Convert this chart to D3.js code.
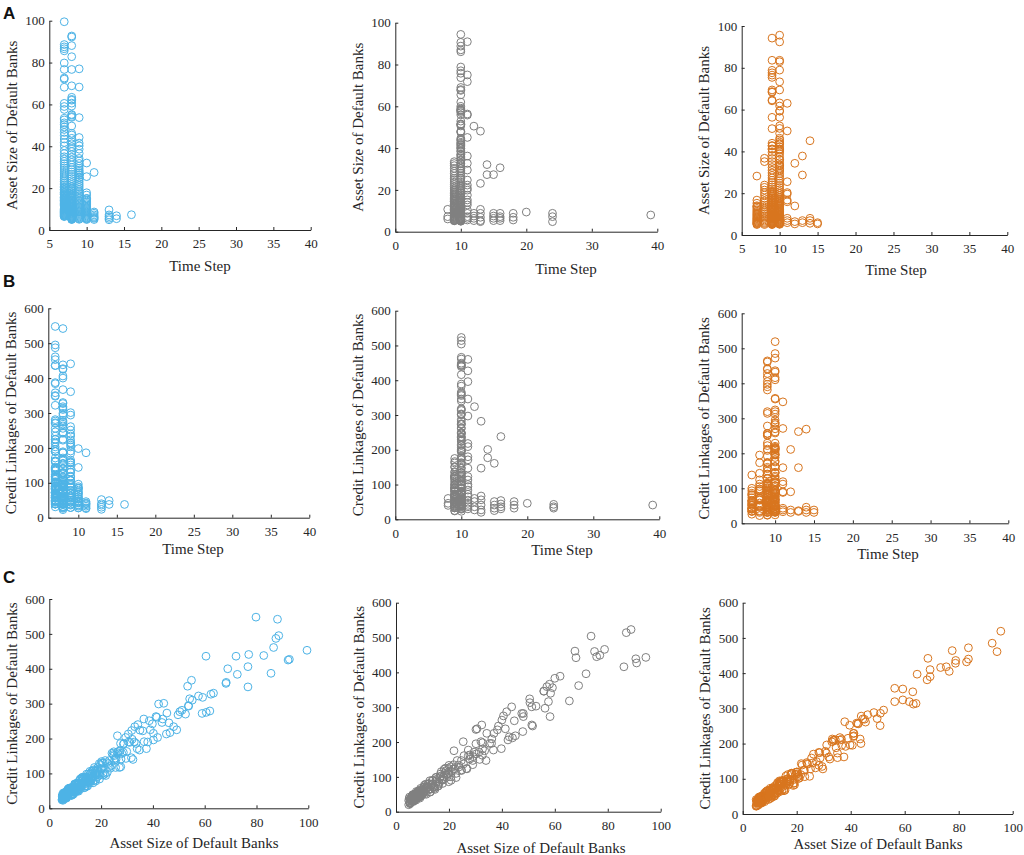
<!DOCTYPE html>
<html>
<head>
<meta charset="utf-8">
<script src="https://cdn.jsdelivr.net/npm/d3@7"></script>
<style>
  body { margin: 0; background: #fff; }
  svg { display: block; font-family: "Liberation Serif", "Times New Roman", serif; }
  .axis text { font-family: "Liberation Serif", "Times New Roman", serif; font-size: 13px; }
  .axis-label { font-size: 15px; fill: #262626; }
  .panel-tag { font-family: "Liberation Sans", Arial, sans-serif; font-weight: bold; font-size: 17px; fill: #111; }
</style>
</head>
<body>
<div class="chart"></div>
<script>
// one entry per default bank: [time step, asset size, credit linkages]
var model1 = [
  // t = 7, scattered top
  [7,99.5,453],[7,88.6,495],[7,87.5,487],[7,86.6,461],[7,85.6,387],[7,79.8,548],[7,76.7,348],[7,72.6,384],
  [7,72.1,436],[7,68.2,358],[7,60.5,436],[7,59.0,272],[7,57.6,322],[7,53.4,350],[7,52.6,270],[7,51.2,281],
  [7,50.4,277],[7,49.2,225],[7,48.0,234],[7,46.6,217],[7,45.2,213],[7,43.5,246],[7,41.8,203],[7,40.2,196],
  [7,38.0,190],[7,36.5,256],
  // t = 7, dense part
  [7,6.4,31],[7,6.8,46],[7,7.2,40],[7,7.6,57],[7,8.0,48],[7,8.4,58],[7,8.8,39],[7,9.2,56],[7,9.6,48],
  [7,10.0,68],[7,10.5,49],[7,11.0,69],[7,11.5,61],[7,12.0,84],[7,12.5,72],[7,13.0,84],[7,13.5,59],[7,14.0,82],
  [7,14.5,71],[7,15.0,98],[7,15.6,72],[7,16.2,98],[7,16.8,87],[7,17.4,117],[7,18.0,100],[7,18.7,117],
  [7,19.4,84],[7,20.1,114],[7,20.8,101],[7,21.6,137],[7,22.4,103],[7,23.2,137],[7,24.0,123],[7,24.9,162],
  [7,25.8,141],[7,26.7,163],[7,27.6,119],[7,28.6,160],[7,29.6,143],[7,30.6,190],[7,31.7,145],[7,32.8,190],
  [7,33.9,171],[7,35.0,224],
  [7,6.6,44],[7,7.0,39],[7,7.4,56],[7,7.9,47],[7,8.4,57],[7,8.9,39],[7,9.4,57],[7,9.9,50],[7,10.4,71],
  [7,11.0,51],[7,11.6,72],[7,12.2,64],[7,12.8,89],[7,13.4,76],[7,14.1,90],[7,14.8,64],[7,15.5,90],[7,16.2,80],
  [7,17.0,110],[7,17.8,82],[7,18.6,111],[7,19.4,100],[7,20.2,134],
  // t = 8, scattered top
  [8,92.7,427],[8,92.2,425],[8,88.1,542],[8,82.8,438],[8,76.7,406],[8,68.9,400],[8,63.4,330],[8,62.4,327],
  [8,62.0,279],[8,60.6,275],[8,59.2,318],[8,54.9,367],[8,54.2,314],[8,55.2,310],[8,53.8,293],[8,49.7,268],
  [8,46.2,245],[8,45.4,273],[8,43.8,256],[8,42.2,299],[8,41.2,263],[8,39.8,242],
  // t = 8, dense part
  [8,5.0,38],[8,5.3,23],[8,5.6,37],[8,5.9,31],[8,6.2,46],[8,6.6,32],[8,7.0,47],[8,7.4,41],[8,7.8,58],
  [8,8.2,49],[8,8.6,59],[8,9.0,39],[8,9.5,58],[8,10.0,50],[8,10.5,71],[8,11.0,52],[8,11.5,72],[8,12.0,63],
  [8,12.6,88],[8,13.2,75],[8,13.8,89],[8,14.4,63],[8,15.0,87],[8,15.7,77],[8,16.4,106],[8,17.1,79],
  [8,17.8,107],[8,18.5,96],[8,19.3,128],[8,20.1,112],[8,20.9,130],[8,21.8,94],[8,22.7,128],[8,23.6,115],
  [8,24.6,154],[8,25.6,117],[8,26.6,156],[8,27.7,141],[8,28.8,186],[8,29.9,163],[8,31.1,189],[8,32.3,140],
  [8,33.5,186],[8,34.8,167],[8,36.1,222],[8,37.5,171],[8,39.0,225],
  [8,5.1,27],[8,5.5,42],[8,6.0,29],[8,6.5,44],[8,7.0,39],[8,7.6,57],[8,8.2,49],[8,8.8,60],[8,9.4,41],
  [8,10.0,60],[8,10.7,54],[8,11.4,77],[8,12.1,56],[8,12.8,79],[8,13.6,71],[8,14.4,98],[8,15.2,86],[8,16.0,101],
  [8,16.9,73],[8,17.8,102],[8,18.7,91],[8,19.7,125],[8,20.7,95],
  // t = 9, scattered top
  [9,77.0,441],[9,68.3,361],[9,53.7,294],[9,44.2,301],[9,41.5,261],[9,40.2,215],[9,38.6,251],[9,36.6,191],
  [9,34.2,240],[9,33.0,234],[9,31.8,223],[9,30.5,213],[9,29.5,203],[9,28.6,184],[9,27.3,165],[9,26.3,208],
  [9,25.0,151],
  // t = 9, dense part
  [9,5.1,29],[9,5.4,44],[9,5.8,36],[9,6.2,45],[9,6.6,29],[9,7.0,44],[9,7.4,38],[9,7.8,55],[9,8.3,39],
  [9,8.8,57],[9,9.3,50],[9,9.8,70],[9,10.3,60],[9,10.8,71],[9,11.3,49],[9,11.9,70],[9,12.5,62],[9,13.1,87],
  [9,13.7,64],[9,14.3,87],[9,15.0,78],[9,15.7,106],[9,16.4,92],[9,17.1,108],[9,17.9,78],[9,18.7,107],
  [9,19.5,95],[9,20.4,130],[9,21.3,98],[9,22.2,131],[9,23.2,119],[9,24.2,158],[9,25.2,138],[9,26.2,160],
  [9,27.1,117],[9,28.0,157],
  // t = 10
  [10,32.0,198],[10,25.5,144],[10,17.8,96],[10,16.7,89],[10,15.1,79],
  [10,5.0,33],[10,5.3,28],[10,5.6,42],[10,5.9,28],[10,6.3,43],[10,6.7,37],[10,7.1,54],[10,7.5,45],
  [10,7.9,55],[10,8.3,36],[10,8.8,54],[10,9.3,47],[10,9.8,67],[10,10.3,48],[10,10.8,68],[10,11.4,60],
  [10,12.0,84],[10,12.6,72],[10,13.2,85],[10,13.8,60],[10,14.4,84],[10,15.0,74],
  // later steps
  [11,27.5,186],[11,8.6,46],[11,8.0,40],[11,7.2,42],[11,6.5,33],[11,6.0,37],[11,5.6,28],[11,5.0,26],
  [13,9.6,52],[13,7.2,40],[13,6.4,36],[13,5.6,30],[13,4.9,24],
  [14,6.8,49],[14,5.4,38],
  [16,7.3,38]
];

var model2 = [
  [8,10.7,60],[8,7.2,46],[8,6.1,40],
  // t = 9
  [9,5.2,25],[9,5.5,38],[9,5.9,33],[9,6.3,49],[9,6.7,41],[9,7.1,50],[9,7.5,33],[9,8.0,49],[9,8.5,43],
  [9,9.0,62],[9,9.5,45],[9,10.0,63],[9,10.6,56],[9,11.2,79],[9,11.8,68],[9,12.4,81],[9,13.0,57],[9,13.7,80],
  [9,14.4,71],[9,15.1,98],[9,15.8,73],[9,16.6,100],[9,17.4,90],[9,18.2,122],[9,19.0,106],[9,19.9,124],
  [9,20.8,90],[9,21.7,123],[9,22.7,110],[9,23.7,128],[9,24.7,118],[9,25.5,137],[9,26.6,124],[9,27.9,151],
  [9,29.0,135],[9,30.3,166],[9,31.6,150],[9,32.6,162],[9,33.5,175],
  [9,5.3,24],[9,5.8,38],[9,6.3,33],[9,6.9,50],[9,7.5,36],[9,8.1,53],[9,8.7,47],[9,9.3,67],[9,10.0,58],
  [9,10.7,71],[9,11.4,50],[9,12.1,71],[9,12.9,64],[9,13.7,90],[9,14.5,67],[9,15.3,93],[9,16.2,84],
  [9,17.1,115],[9,18.0,100],[9,18.9,118],[9,19.9,86],
  // t = 10, scattered top
  [10,94.4,443],[10,90.6,439],[10,88.8,523],[10,87.0,514],[10,86.1,416],[10,78.8,466],[10,77.0,449],
  [10,75.8,445],[10,73.7,504],[10,69.0,362],[10,68.0,442],[10,67.6,461],[10,65.5,318],[10,62.0,389],
  [10,60.0,383],[10,59.1,356],[10,58.4,340],[10,58.0,366],[10,57.6,316],[10,57.0,359],[10,55.9,346],
  [10,58.2,273],[10,52.9,303],[10,51.3,301],[10,50.6,313],[10,51.6,246],[10,51.3,249],[10,48.1,273],
  [10,47.9,230],[10,47.5,282],[10,44.7,261],[10,44.0,212],[10,43.7,301],[10,42.3,206],[10,41.8,287],
  [10,40.6,275],[10,40.0,263],[10,38.7,246],[10,37.0,225],[10,36.1,196],[10,34.3,225],[10,32.4,249],
  [10,30.2,236],[10,29.2,158],[10,25.4,201],[10,21.9,175],
  // t = 10, dense part
  [10,5.0,38],[10,5.3,23],[10,5.6,37],[10,5.9,31],[10,6.2,46],[10,6.5,31],[10,6.9,46],[10,7.3,40],
  [10,7.7,58],[10,8.1,49],[10,8.5,58],[10,9.0,39],[10,9.5,58],[10,10.0,50],[10,10.5,71],[10,11.0,52],
  [10,11.6,72],[10,12.2,64],[10,12.8,89],[10,13.4,76],[10,14.0,90],[10,14.7,64],[10,15.4,89],[10,16.1,79],
  [10,16.8,108],[10,17.6,81],[10,18.4,110],[10,19.2,99],[10,20.0,133],[10,20.9,116],[10,21.8,135],
  [10,22.7,98],[10,23.7,134],[10,24.7,120],[10,25.7,161],[10,26.8,123],[10,27.9,163],[10,29.0,147],
  [10,30.2,195],[10,31.4,171],[10,32.7,198],[10,34.0,147],[10,35.4,196],[10,36.8,177],[10,38.3,235],
  [10,39.8,181],[10,41.3,238],[10,42.8,215],
  [10,5.1,42],[10,5.5,35],[10,6.0,44],[10,6.5,29],[10,7.0,44],[10,7.6,39],[10,8.2,58],[10,8.8,42],
  [10,9.4,60],[10,10.0,54],[10,10.7,76],[10,11.4,66],[10,12.1,79],[10,12.8,56],[10,13.6,79],[10,14.4,71],
  [10,15.2,99],[10,16.0,74],[10,16.9,102],[10,17.8,92],[10,18.7,125],[10,19.7,109],[10,20.7,129],
  // t = 11
  [11,90.9,427],[11,75.0,460],[11,71.8,396],[11,56.3,297],[11,55.8,346],[11,45.1,218],[11,36.2,209],
  [11,32.7,180],[11,29.5,171],[11,24.7,147],[11,22.3,123],[11,20.8,100],[11,19.9,113],[11,17.5,94],
  [11,15.2,84],[11,14.0,72],[11,12.8,65],[11,10.4,55],[11,8.8,46],[11,7.2,40],[11,6.4,30],[11,5.6,36],
  // later steps
  [12,50.5,324],[12,8.8,60],[12,7.5,51],[12,6.4,36],[12,5.3,27],
  [13,48.1,282],[13,23.1,147],[13,10.7,67],[13,8.8,56],[13,6.9,41],[13,5.3,27],[13,4.8,20],
  [14,32.1,201],[14,27.3,177],
  [15,27.3,161],[15,8.8,51],[15,7.5,41],[15,6.4,32],[15,5.3,25],
  [16,30.6,238],[16,8.8,54],[16,7.2,44],[16,6.4,36],[16,5.3,30],
  [18,8.8,51],[18,6.9,41],[18,5.6,32],
  [20,9.4,46],
  [24,8.8,43],[24,7.2,36],[24,4.8,32],
  [39,8.0,41]
];

var model3 = [
  // t = 7
  [7,28.2,138],[7,16.7,100],[7,15.2,93],[7,13.6,86],
  [7,5.0,41],[7,5.3,34],[7,5.6,41],[7,5.9,26],[7,6.2,40],[7,6.6,34],[7,7.0,51],[7,7.4,35],[7,7.8,51],
  [7,8.2,45],[7,8.7,64],[7,9.2,54],[7,9.7,65],[7,10.2,44],[7,10.8,64],[7,11.4,57],[7,12.0,80],[7,12.7,59],
  [7,13.4,82],[7,14.0,73],
  // t = 8
  [8,36.7,195],[8,35.1,173],[8,23.9,143],[8,22.8,124],[8,21.5,112],[8,20.3,105],[8,19.1,98],[8,17.5,92],
  [8,5.0,22],[8,5.5,36],[8,6.0,31],[8,6.6,48],[8,7.2,34],[8,7.8,51],[8,8.5,46],[8,9.2,67],[8,10.0,58],
  [8,10.8,71],[8,11.6,50],[8,12.5,74],[8,13.4,66],[8,14.3,94],[8,15.3,71],[8,16.3,98],
  // t = 9, scattered top
  [9,94.2,461],[9,83.6,440],[9,78.8,428],[9,77.6,464],[9,76.5,405],[9,75.4,418],[9,69.4,390],[9,68.6,442],
  [9,68.3,381],[9,64.6,397],[9,64.2,314],[9,56.3,319],[9,50.9,251],[9,43.9,278],[9,42.6,257],[9,41.0,229],
  // t = 9, dense part
  [9,5.0,24],[9,5.3,37],[9,5.6,32],[9,5.9,47],[9,6.2,39],[9,6.6,47],[9,7.0,31],[9,7.4,46],[9,7.8,40],
  [9,8.2,58],[9,8.7,41],[9,9.2,59],[9,9.7,52],[9,10.2,73],[9,10.7,62],[9,11.3,74],[9,11.9,52],[9,12.5,74],
  [9,13.1,65],[9,13.8,91],[9,14.5,67],[9,15.2,92],[9,15.9,83],[9,16.7,112],[9,17.5,98],[9,18.3,115],
  [9,19.2,83],[9,20.1,114],[9,21.0,102],[9,22.0,139],[9,23.0,106],[9,24.0,141],[9,25.1,128],[9,26.2,170],
  [9,27.3,149],[9,28.5,174],[9,29.7,128],[9,31.0,173],[9,32.3,156],[9,33.7,208],[9,35.1,160],[9,36.6,212],
  [9,38.1,192],[9,39.6,252],[9,41.2,222],[9,42.8,256],
  [9,5.1,23],[9,5.5,36],[9,6.0,31],[9,6.5,48],[9,7.0,33],[9,7.6,50],[9,8.2,45],[9,8.8,64],[9,9.4,55],
  [9,10.0,67],[9,10.7,47],[9,11.4,68],[9,12.1,60],[9,12.8,85],[9,13.6,63],[9,14.4,88],[9,15.2,79],
  [9,16.0,108],[9,16.9,95],[9,17.8,112],[9,18.7,81],[9,19.7,112],[9,20.7,101],
  // t = 10, scattered top
  [10,95.6,519],[10,92.4,485],[10,83.6,472],[10,82.9,432],[10,78.9,436],[10,73.3,416],[10,69.4,410],
  [10,63.2,312],[10,61.7,319],[10,59.3,355],[10,59.3,324],[10,56.3,357],[10,52.2,295],[10,51.0,286],
  [10,48.6,288],[10,46.3,282],[10,44.5,270],[10,43.5,213],[10,41.2,229],[10,41.0,220],[10,39.8,196],
  [10,36.0,210],[10,33.6,210],[10,33.0,205],[10,31.1,196],
  // t = 10, dense part
  [10,5.1,38],[10,5.4,24],[10,5.7,37],[10,6.0,31],[10,6.4,47],[10,6.8,32],[10,7.2,48],[10,7.6,42],
  [10,8.0,59],[10,8.5,51],[10,9.0,61],[10,9.5,41],[10,10.0,60],[10,10.5,53],[10,11.1,75],[10,11.7,55],
  [10,12.3,76],[10,12.9,68],[10,13.6,94],[10,14.3,81],[10,15.0,96],[10,15.7,68],[10,16.5,95],[10,17.3,85],
  [10,18.1,116],[10,19.0,88],[10,19.9,119],[10,20.8,107],[10,21.7,143],[10,22.7,125],[10,23.7,146],
  [10,24.8,107],[10,25.9,145],[10,27.0,131],[10,28.2,175],[10,29.4,135],[10,30.6,178],[10,31.9,162],
  [10,33.2,213],[10,34.6,188],[10,36.0,217],[10,37.5,162],[10,39.0,215],[10,40.6,195],[10,42.2,258],
  [10,43.8,200],[10,45.5,261],
  [10,5.3,37],[10,5.8,33],[10,6.3,49],[10,6.9,42],[10,7.5,52],[10,8.1,35],[10,8.7,53],[10,9.3,47],
  [10,10.0,68],[10,10.7,50],[10,11.4,71],[10,12.1,64],[10,12.9,89],[10,13.7,78],[10,14.5,93],[10,15.3,66],
  [10,16.2,93],[10,17.1,84],[10,18.0,115],[10,18.9,87],[10,19.9,119],
  // later steps
  [11,63.0,347],[11,49.8,271],[11,25.5,159],[11,20.3,119],[11,19.6,112],[11,16.7,90],[11,15.9,88],
  [11,8.0,43],[11,6.9,38],[11,5.9,33],
  [12,34.3,211],[12,13.9,90],[12,6.4,38],[12,5.3,31],
  [13,37.8,262],[13,28.7,159],[13,6.9,36],[13,5.9,34],
  [14,45.1,269],[14,8.0,46],[14,6.9,38],[14,5.6,31],
  [15,5.9,38],[15,5.3,31]
];

var modelColors = ['#4DB3E6', '#808080', '#D8751E'];
var timeTicks5 = [5, 10, 15, 20, 25, 30, 35, 40];
var timeTicks10 = [0, 10, 20, 30, 40];
var assetTicks = [0, 20, 40, 60, 80, 100];
var linkTicks = [0, 100, 200, 300, 400, 500, 600];
var rowTags = ['A', 'B', 'C'];

//************************************************************
// Rows: which field goes on each axis
//************************************************************
var rows = [
    { xi: 0, yi: 1, yDomain: [0, 100], yTicks: assetTicks,
      xLabel: 'Time Step', yLabel: 'Asset Size of Default Banks' },
    { xi: 0, yi: 2, yDomain: [0, 600], yTicks: linkTicks,
      xLabel: 'Time Step', yLabel: 'Credit Linkages of Default Banks' },
    { xi: 1, yi: 2, yDomain: [0, 600], yTicks: linkTicks,
      xLabel: 'Asset Size of Default Banks', yLabel: 'Credit Linkages of Default Banks' }
];
var xDomains = [
    [[5, 40], [0, 40], [5, 40]],
    [[6.1, 40], [0, 40], [5.7, 40]],
    [[0, 100], [0, 100], [0, 100]]
];
var xTickSets = [
    [timeTicks5, timeTicks10, timeTicks5],
    [timeTicks5, timeTicks10, timeTicks5],
    [assetTicks, assetTicks, assetTicks]
];

// panel frames [left, right, top, bottom] in page pixels
var frames = [
    [[49.3, 310.7, 20.7, 230], [395.3, 657.3, 22.7, 231.7], [741.7, 1007.3, 26, 235]],
    [[48.3, 309.3, 308.3, 517.7], [395.3, 659.3, 310.7, 519.3], [741.7, 1008.3, 313.3, 523.3]],
    [[49.3, 308.3, 599, 808.3], [396, 660.7, 602.7, 811.7], [742.7, 1012.7, 602.7, 814]]
];
// x label anchor (centre x, baseline y)
var xLabelPos = [
    [[200, 271], [566, 273.5], [896, 275]],
    [[193, 553.5], [562, 555], [888, 558.5]],
    [[194, 848], [541, 853], [878, 848.5]]
];
var tagPos = [[3, 18.5], [3, 286.5], [3, 582.5]];

var models = [model1, model2, model3];
var axisColor = '#262626';

var svg = d3.select('.chart').append('svg')
    .attr('width', 1024)
    .attr('height', 855)
    .attr('viewBox', '0 0 1024 855');

svg.append('rect').attr('width', 1024).attr('height', 855).attr('fill', '#fff');

rows.forEach(function (row, r) {
    models.forEach(function (data, c) {
        var f = frames[r][c];
        var w = f[1] - f[0], h = f[3] - f[2];
        var dom = xDomains[r][c];

        var x = d3.scaleLinear().domain(dom).range([0, w]);
        var y = d3.scaleLinear().domain(row.yDomain).range([h, 0]);

        var g = svg.append('g')
            .attr('transform', 'translate(' + f[0] + ',' + f[2] + ')');

        // markers
        g.append('g').selectAll('circle')
            .data(data)
            .enter()
            .append('circle')
            .attr('cx', function (d) { return x(d[row.xi]); })
            .attr('cy', function (d) { return y(d[row.yi]); })
            .attr('r', 3.9)
            .attr('fill', 'none')
            .attr('stroke', modelColors[c])
            .attr('stroke-width', 1);

        var xt = xTickSets[r][c].filter(function (v) { return v >= dom[0] && v <= dom[1]; });

        g.append('g')
            .attr('class', 'axis')
            .attr('color', axisColor)
            .attr('transform', 'translate(0,' + h + ')')
            .call(d3.axisBottom(x).tickValues(xt).tickFormat(d3.format('d'))
                .tickSizeInner(-3).tickSizeOuter(0).tickPadding(9));

        g.append('g')
            .attr('class', 'axis')
            .attr('color', axisColor)
            .call(d3.axisLeft(y).tickValues(row.yTicks).tickFormat(d3.format('d'))
                .tickSizeInner(-3).tickSizeOuter(0).tickPadding(4.5));

        // axis titles
        svg.append('text')
            .attr('class', 'axis-label')
            .attr('text-anchor', 'middle')
            .attr('x', xLabelPos[r][c][0])
            .attr('y', xLabelPos[r][c][1])
            .text(row.xLabel);

        svg.append('text')
            .attr('class', 'axis-label')
            .attr('text-anchor', 'middle')
            .attr('transform', 'translate(' + (f[0] - 32.5) + ',' + ((f[2] + f[3]) / 2) + ') rotate(-90)')
            .text(row.yLabel);
    });

    svg.append('text')
        .attr('class', 'panel-tag')
        .attr('x', tagPos[r][0])
        .attr('y', tagPos[r][1])
        .text(rowTags[r]);
});
</script>
</body>
</html>
